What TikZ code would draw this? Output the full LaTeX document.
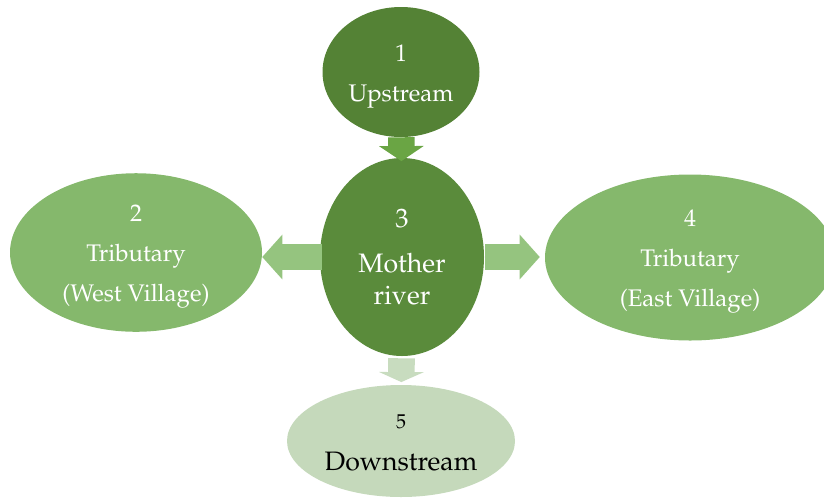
\documentclass[tikz,border=0pt]{standalone}
\usepackage[T1]{fontenc}
\usepackage{mathpazo}
\usetikzlibrary{shapes.geometric,arrows.meta}
\definecolor{upgreen}{HTML}{548235}
\definecolor{mothergreen}{HTML}{5A8B3B}
\definecolor{tribgreen}{HTML}{85B86C}
\definecolor{downgreen}{HTML}{C5D9BB}
\definecolor{arrowdark}{HTML}{6AA544}
\definecolor{arrowmid}{HTML}{95C47F}
\definecolor{arrowpale}{HTML}{C8DCBF}
\newcommand{\lift}{\rule{0pt}{19pt}}
\tikzset{
  river/.style={ellipse, inner sep=0pt, align=center, text=white,
    font=\fontsize{18}{30}\selectfont},
  flow/.style={line width=20pt, -{Triangle[line width=0pt, length=#1, width=33.5pt]}},
  flow/.default=15pt
}
\begin{document}
\begin{tikzpicture}[x=0.75pt,y=-0.75pt]
        \useasboundingbox (0,0) rectangle (824,497);
        \clip (0,0) rectangle (824,497);
        \node [river, fill=upgreen, minimum width=117.75pt, minimum height=97.5pt] (up) at (401,72) {\lift 1\\Upstream};
        \node [river, fill=mothergreen, minimum width=123pt, minimum height=148.5pt, font=\fontsize{20}{24}\selectfont] (mother) at (402,257) {3\\[10pt]Mother\\river};
        \node [river, fill=tribgreen, minimum width=189pt, minimum height=117pt] (west) at (136,252.5) {\lift 2\\Tributary\\(West Village)};
        \node [river, fill=tribgreen, minimum width=217.5pt, minimum height=124.5pt] (east) at (690,257.5) {\lift 4\\Tributary\\(East Village)};
        \node [river, fill=downgreen, text=black, minimum width=171pt, minimum height=84pt, font=\fontsize{20}{31.5}\selectfont] (down) at (401,441) {\rule{0pt}{13pt}{\fontsize{15}{17}\selectfont 5}\\Downstream};
        \draw [flow=11.25pt, arrowdark, shorten >=-2.5pt] (up) -- (mother);
        \draw [flow, arrowmid, shorten <=-2pt] (mother.west) -- (mother.west -| west.east);
        \draw [flow, arrowmid, shorten <=0.75pt, shorten >=3.75pt] (mother.east) -- (mother.east -| east.west);
        \draw [flow=7.5pt, arrowpale, shorten <=1.5pt, shorten >=2pt] (mother) -- (down);
\end{tikzpicture}
\end{document}
